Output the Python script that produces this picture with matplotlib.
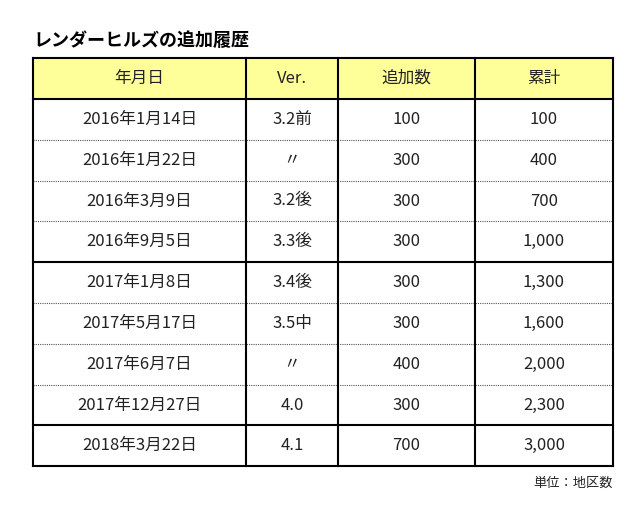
import matplotlib.pyplot as plt
from matplotlib.patches import Rectangle

plt.rcParams["font.family"] = "Noto Sans CJK JP"

title = "レンダーヒルズの追加履歴"
headers = ["年月日", "Ver.", "追加数", "累計"]
dates = ["2016年1月14日", "2016年1月22日", "2016年3月9日", "2016年9月5日",
         "2017年1月8日", "2017年5月17日", "2017年6月7日", "2017年12月27日",
         "2018年3月22日"]
versions = ["3.2前", "〃", "3.2後", "3.3後", "3.4後", "3.5中", "〃", "4.0", "4.1"]
added = [100, 300, 300, 300, 300, 300, 400, 300, 700]
totals = [100, 400, 700, 1000, 1300, 1600, 2000, 2300, 3000]
solid_after = [3, 7]  # rows followed by a solid rule
note = "単位：地区数"

fig = plt.figure(figsize=(6.4, 5.2), dpi=100)
ax = fig.add_axes([0, 0, 1, 1])
ax.set_xlim(0, 640)
ax.set_ylim(520, 0)
ax.axis("off")

cols = [33, 246, 338, 475, 613]
top, head_h, row_h = 58, 41, 40.8
bottom = top + head_h + row_h * len(dates)

ax.text(33, 40, title, fontsize=13, fontweight="bold", va="center", ha="left")
ax.add_patch(Rectangle((cols[0], top), cols[-1] - cols[0], head_h,
                       facecolor="#ffff99", edgecolor="none"))

for i, h in enumerate(headers):
    ax.text((cols[i] + cols[i + 1]) / 2, top + head_h / 2, h,
            fontsize=12, ha="center", va="center", color="#222222")

for r in range(len(dates)):
    yc = top + head_h + row_h * (r + 0.5)
    vals = [dates[r], versions[r], f"{added[r]:,}", f"{totals[r]:,}"]
    for i, v in enumerate(vals):
        ax.text((cols[i] + cols[i + 1]) / 2, yc, v,
                fontsize=12, ha="center", va="center", color="#222222")
    if r < len(dates) - 1:
        y = top + head_h + row_h * (r + 1)
        if r in solid_after:
            ax.plot([cols[0], cols[-1]], [y, y], color="black", lw=1.5)
        else:
            ax.plot([cols[0], cols[-1]], [y, y], color="#555555", lw=0.8,
                    ls=(0, (1, 1)))

ax.plot([cols[0], cols[-1]], [top + head_h] * 2, color="black", lw=1.5)
for y in (top, bottom):
    ax.plot([cols[0], cols[-1]], [y, y], color="black", lw=1.5)
for x in cols:
    ax.plot([x, x], [top, bottom], color="black", lw=1.5)

ax.text(613, 483, note, fontsize=9.5, ha="right", va="center", color="#222222")

fig.savefig("out.png", dpi=100)
